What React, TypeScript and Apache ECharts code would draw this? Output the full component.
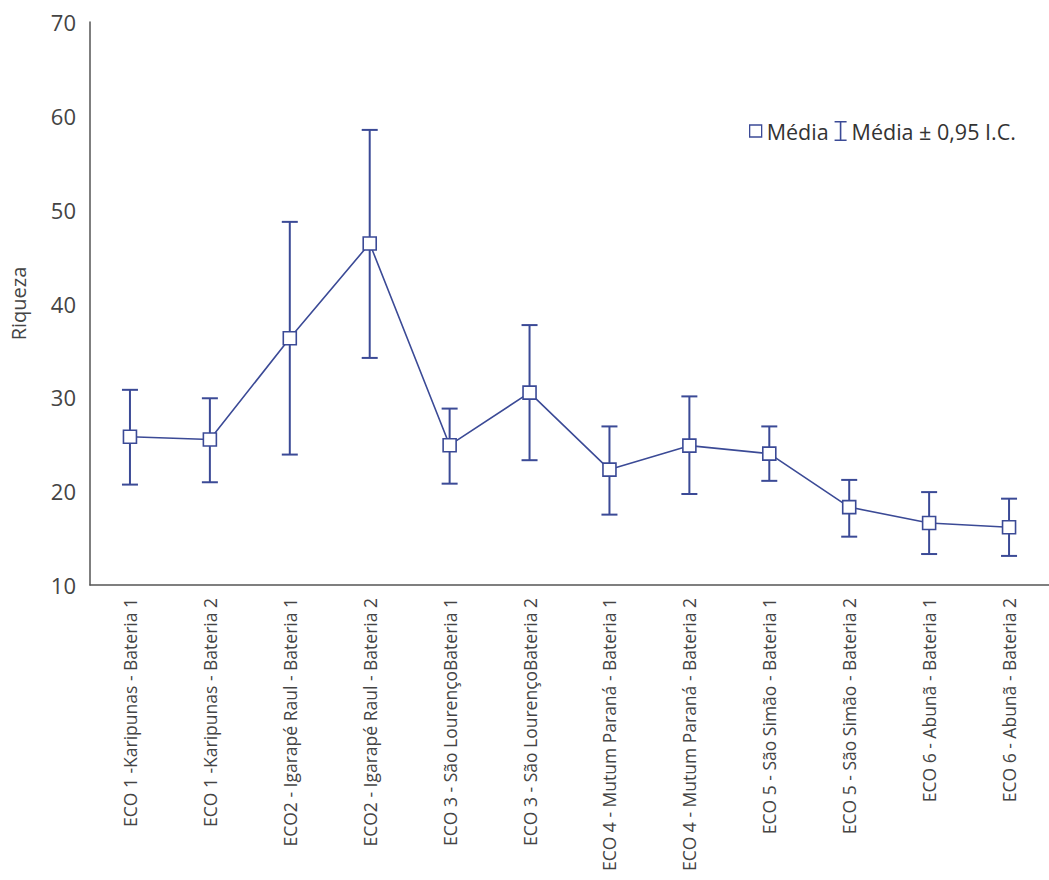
import React, { useEffect, useRef } from "react";
import * as echarts from "echarts";

const categories = [
  "ECO 1 -Karipunas - Bateria 1",
  "ECO 1 -Karipunas - Bateria 2",
  "ECO2 - Igarapé Raul - Bateria 1",
  "ECO2 - Igarapé Raul - Bateria 2",
  "ECO 3 - São LourençoBateria 1",
  "ECO 3 - São LourençoBateria 2",
  "ECO 4 - Mutum Paraná - Bateria 1",
  "ECO 4 - Mutum Paraná - Bateria 2",
  "ECO 5 - São Simão - Bateria 1",
  "ECO 5 - São Simão - Bateria 2",
  "ECO 6 - Abunã - Bateria 1",
  "ECO 6 - Abunã - Bateria 2",
];
const means = [25.8, 25.5, 36.3, 46.4, 24.9, 30.5, 22.3, 24.85, 24.0, 18.3, 16.6, 16.15];
const upper = [30.8, 29.9, 48.7, 58.5, 28.8, 37.7, 26.9, 30.1, 26.9, 21.2, 19.9, 19.2];
const lower = [20.7, 20.95, 23.9, 34.2, 20.8, 23.3, 17.5, 19.7, 21.1, 15.15, 13.3, 13.1];
const yTicks = [10, 20, 30, 40, 50, 60, 70];

const BLUE = "#3b4a96";
const FONT = "Open Sans";

export default function App() {
  const ref = useRef<HTMLDivElement>(null);
  useEffect(() => {
    const chart = echarts.init(ref.current!, null, { renderer: "svg" });
    const errData = categories.map((_, i) => [i, lower[i], upper[i]]);
    chart.setOption({
      animation: false,
      backgroundColor: "#fff",
      textStyle: { fontFamily: FONT },
      legend: {
        left: 744,
        top: 115,
        itemGap: 6,
        itemWidth: 12,
        itemHeight: 20,
        textStyle: { fontSize: 21.5, color: "#333", fontFamily: FONT },
        data: [
          {
            name: "Média",
            icon: "path://M0,0h10v10h-10z",
            itemStyle: { color: "#fff", borderColor: BLUE, borderWidth: 1.3 },
          },
          {
            name: "Média ± 0,95 I.C.",
            icon: "path://M0,0h12v1.6h-5.2v16.8h5.2v1.6h-12v-1.6h5.2v-16.8h-5.2z",
            itemStyle: { color: BLUE },
          },
        ],
      },
      grid: { left: 85, right: -9, top: 22, bottom: 295, containLabel: false },
      xAxis: {
        type: "category",
        data: categories,
        boundaryGap: true,
        axisLine: { lineStyle: { color: "#555", width: 1.5 } },
        axisTick: { alignWithLabel: true, inside: true, length: 6, lineStyle: { color: "#555" } },
        axisLabel: { rotate: 90, margin: 13, fontSize: 17.5, color: "#444", fontFamily: FONT, interval: 0 },
      },
      yAxis: {
        type: "value",
        min: yTicks[0],
        max: yTicks[yTicks.length - 1],
        interval: 10,
        name: "Riqueza",
        nameLocation: "middle",
        nameGap: 62,
        nameTextStyle: { fontSize: 20, color: "#444", fontFamily: FONT },
        axisLine: { show: true, lineStyle: { color: "#555", width: 1.5 } },
        axisTick: { show: false },
        splitLine: { show: false },
        axisLabel: { fontSize: 22, color: "#444", margin: 14, fontFamily: FONT },
      },
      series: [
        {
          name: "Média ± 0,95 I.C.",
          type: "custom",
          data: errData,
          z: 2,
          renderItem: (params: any, api: any) => {
            const x = api.value(0);
            const lo = api.coord([x, api.value(1)]);
            const hi = api.coord([x, api.value(2)]);
            const hw = 8;
            const style = { stroke: BLUE, lineWidth: 2, fill: "none" };
            return {
              type: "group",
              children: [
                { type: "line", shape: { x1: lo[0], y1: lo[1], x2: hi[0], y2: hi[1] }, style },
                { type: "line", shape: { x1: lo[0] - hw, y1: lo[1], x2: lo[0] + hw, y2: lo[1] }, style },
                { type: "line", shape: { x1: hi[0] - hw, y1: hi[1], x2: hi[0] + hw, y2: hi[1] }, style },
              ],
            };
          },
        },
        {
          name: "Média",
          type: "line",
          data: means,
          z: 3,
          symbol: "rect",
          symbolSize: 13,
          showAllSymbol: true,
          lineStyle: { color: BLUE, width: 1.6 },
          itemStyle: { color: "#fff", borderColor: BLUE, borderWidth: 1.6 },
        },
      ],
    });
    return () => chart.dispose();
  }, []);
  return (
    <div
      ref={ref}
      style={{ position: "fixed", left: 0, top: 0, width: 1049, height: 880, background: "#fff" }}
    />
  );
}
